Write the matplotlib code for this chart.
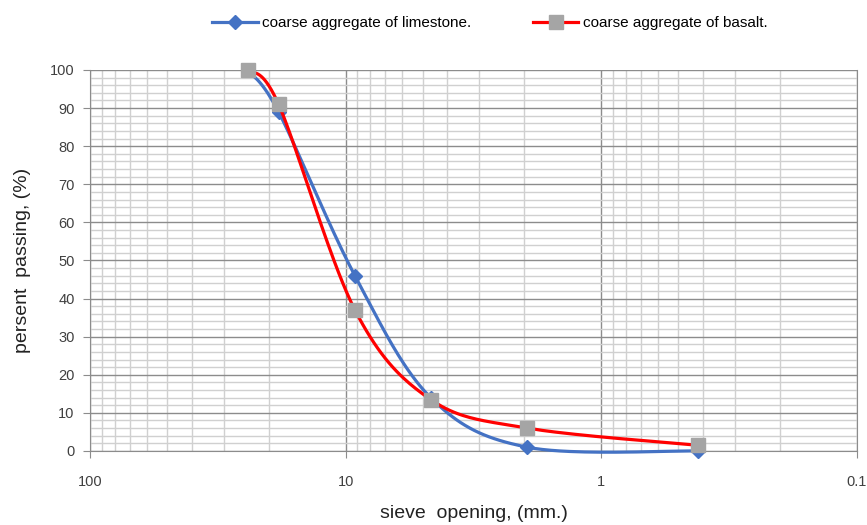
import numpy as np
import matplotlib.pyplot as plt
from matplotlib.ticker import FixedLocator, FixedFormatter, NullFormatter

plt.rcParams["font.family"] = ["Liberation Sans", "DejaVu Sans"]

sieve = [24.2, 18.3, 9.2, 4.65, 1.95, 0.42]
limestone = [100, 89, 46, 14, 1, 0]
basalt = [100, 91, 37, 13.5, 6, 1.5]


def smooth(xs, ys, n=40):
    # Excel-style smoothed line: Catmull-Rom bezier in (log x, y)
    lx = np.log10(xs)
    p = np.column_stack([lx, ys])
    out = []
    for i in range(len(p) - 1):
        p0 = p[i - 1] if i > 0 else p[i]
        p1, p2 = p[i], p[i + 1]
        p3 = p[i + 2] if i + 2 < len(p) else p[i + 1]
        c1 = p1 + (p2 - p0) / 6
        c2 = p2 - (p3 - p1) / 6
        t = np.linspace(0, 1, n)[:, None]
        seg = ((1 - t) ** 3) * p1 + 3 * ((1 - t) ** 2) * t * c1 + 3 * (1 - t) * t ** 2 * c2 + t ** 3 * p2
        out.append(seg if i == 0 else seg[1:])
    out = np.vstack(out)
    return 10 ** out[:, 0], out[:, 1]


fig = plt.figure(figsize=(8.67, 5.25), dpi=100)
ax = fig.add_axes([0.1038, 0.141, 0.8847, 0.7257])

ax.set_xscale("log")
ax.set_xlim(100, 0.1)
ax.set_ylim(0, 100)

sx, sy = smooth(sieve, limestone)
ax.plot(sx, sy, color="#4472C4", lw=2.3, zorder=3, clip_on=False)
ax.plot(sieve, limestone, ls="none", marker="D", ms=7, color="#4472C4", zorder=4, clip_on=False)
bx, by = smooth(sieve, basalt)
ax.plot(bx, by, color="#FF0000", lw=2.3, zorder=5, clip_on=False)
ax.plot(sieve, basalt, ls="none", marker="s", ms=9.5, color="#A5A5A5", zorder=6, clip_on=False)

# legend handles
ax.plot([], [], color="#4472C4", lw=2.3, marker="D", ms=7, label="coarse aggregate of limestone.")
ax.plot([], [], color="#FF0000", lw=2.3, marker="s", ms=9.5, mfc="#A5A5A5", mec="#A5A5A5",
        label="coarse aggregate of basalt.")
h, l = ax.get_legend_handles_labels()
fig.legend(h, l, loc="upper center", bbox_to_anchor=(0.565, 0.995), ncol=2, frameon=False,
           fontsize=11, handlelength=3, columnspacing=4, handletextpad=0.3)

ax.set_yticks(range(0, 101, 10))
ax.set_yticks(range(0, 101, 2), minor=True)
ax.xaxis.set_major_locator(FixedLocator([100, 10, 1, 0.1]))
ax.xaxis.set_major_formatter(FixedFormatter(["100", "10", "1", "0.1"]))
ax.xaxis.set_minor_formatter(NullFormatter())

ax.grid(which="major", color="#8C8C8C", lw=1)
ax.grid(which="minor", color="#D0D0D0", lw=1)
ax.set_axisbelow(True)

ax.spines["top"].set_visible(False)
ax.spines["right"].set_color("#8C8C8C")
ax.spines["left"].set_color("#8C8C8C")
ax.spines["bottom"].set_color("#8C8C8C")

ax.tick_params(which="major", length=5, color="#8C8C8C", labelsize=10.5, labelcolor="#404040")
ax.tick_params(axis="x", which="major", pad=12)
ax.tick_params(axis="y", which="major", pad=6)
ax.tick_params(which="minor", length=0)

ax.set_xlabel("sieve  opening, (mm.)", fontsize=14, color="#222222", labelpad=12)
ax.set_ylabel("persent  passing, (%)", fontsize=14, color="#222222", labelpad=14)

fig.savefig("out.png", dpi=100)
